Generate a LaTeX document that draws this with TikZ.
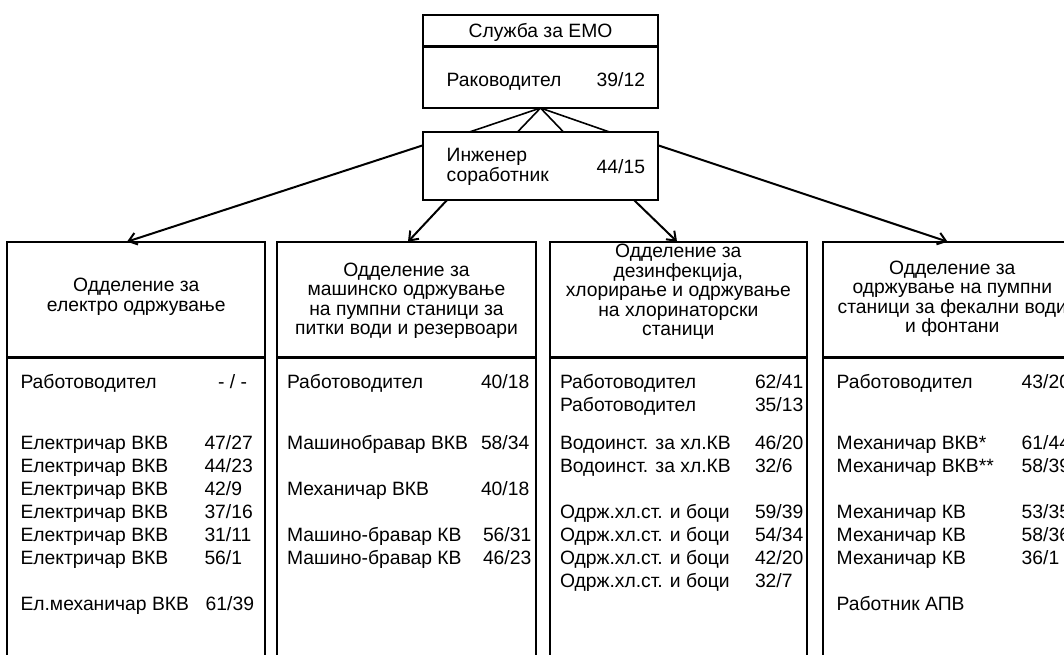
\documentclass[tikz,border=0pt]{standalone}
\usepackage{fontspec}
\setmainfont{Liberation Sans}
\usetikzlibrary{arrows.meta,calc}
\newcommand\dfont{\fontsize{19.3}{19.5}\selectfont}
\tikzset{
  box/.style={draw, line width=2pt, rectangle, inner sep=0pt, outer sep=0pt},
  sepline/.style={line width=3pt},
  txt/.style={anchor=base west, inner sep=0pt, outer sep=0pt, font=\dfont},
  txte/.style={anchor=base east, inner sep=0pt, outer sep=0pt, font=\dfont},
  hd/.style={anchor=center, inner sep=0pt, outer sep=0pt, align=center, font=\dfont},
  conn/.style={line width=1.6pt},
  arr/.style={line width=2pt, -{Straight Barb[length=8pt,width=12pt,line width=2pt]}}
}
\begin{document}
\begin{tikzpicture}[x=1pt,y=-1pt]
\useasboundingbox (0,0) rectangle (1064,654);
\clip (0,0) rectangle (1064,654);
\fill[white] (0,0) rectangle (1064,654);

% top box
\node[box, minimum width=235pt, minimum height=93pt, anchor=north west] (top) at (423,15) {};
\draw[sepline] (423,46) -- (658,46);
\node[txt, anchor=base] (sl) at (540.5,37.5) {Служба за ЕМО};
\node[txt] (rk) at (446.7,86) {Раководител};
\node[txt] (rkn) at (596.7,86) {39/12};

% engineer box
\node[box, minimum width=235pt, minimum height=68pt, anchor=north west] (eng) at (423,132) {};
\node[txt] (ie1) at (446.7,161.7) {Инженер};
\node[txt] (ie2) at (446.7,181.7) {соработник};
\node[txt] (ien) at (596.7,173.3) {44/15};

\draw[conn] (top.south) -- ($(eng.north)+(-71,0)$);
\draw[conn] (top.south) -- ($(eng.north)+(-23,0)$);
\draw[conn] (top.south) -- ($(eng.north)+(23,0)$);
\draw[conn] (top.south) -- ($(eng.north)+(69,0)$);

% department boxes
\node[box, minimum width=258pt, minimum height=460pt, anchor=north west] (c1) at (7.3,241.7) {};
\node[box, minimum width=258.4pt, minimum height=460pt, anchor=north west] (c2) at (277.3,241.7) {};
\node[box, minimum width=256.7pt, minimum height=460pt, anchor=north west] (c3) at (550,241.7) {};
\node[box, minimum width=259.3pt, minimum height=460pt, anchor=north west] (c4) at (822.7,241.7) {};
\draw[sepline] (7.3,357.7) -- (265.3,357.7);
\draw[sepline] (277.3,357.7) -- (535.7,357.7);
\draw[sepline] (550,357.7) -- (806.7,357.7);
\draw[sepline] (822.7,357.7) -- (1082,357.7);

% arrows
\draw[arr] (eng.170) -- ($(c1.north)+(-9.3,0)$);
\draw[arr] (eng.200) -- ($(c2.north)+(1.5,0)$);
\draw[arr] (eng.340) -- ($(c3.north)+(-1.3,0)$);
\draw[arr] (eng.10) -- ($(c4.north)+(-4.8,0)$);

% headers
\node[hd] (h1) at (136.3,297) {Одделение за\\електро одржување};
\node[hd] (h2) at (406.5,301) {Одделение за\\машинско одржување\\на пумпни станици за\\питки води и резервоари};
\node[hd] (h3) at (678.3,292) {Одделение за\\дезинфекција,\\хлорирање и одржување\\на хлоринаторски\\станици};
\node[hd] (h4) at (952.3,299) {Одделение за\\одржување на пумпни\\станици за фекални води\\и фонтани};

% column 1
\node[txt] (a0) at (20.5,388) {Работоводител};
\node[txte] (a0n) at (247,388) {- / -};
\node[txt] (a1) at (20.5,449.6) {Електричар ВКВ};
\node[txt] (a1n) at (204.5,449.6) {47/27};
\node[txt] (a2) at (20.5,472.6) {Електричар ВКВ};
\node[txt] (a2n) at (204.5,472.6) {44/23};
\node[txt] (a3) at (20.5,495.6) {Електричар ВКВ};
\node[txt] (a3n) at (204.5,495.6) {42/9};
\node[txt] (a4) at (20.5,518.6) {Електричар ВКВ};
\node[txt] (a4n) at (204.5,518.6) {37/16};
\node[txt] (a5) at (20.5,541.6) {Електричар ВКВ};
\node[txt] (a5n) at (204.5,541.6) {31/11};
\node[txt] (a6) at (20.5,564.6) {Електричар ВКВ};
\node[txt] (a6n) at (204.5,564.6) {56/1};
\node[txt] (a7) at (20.5,610.6) {Ел.механичар ВКВ};
\node[txt] (a7n) at (205.7,610.6) {61/39};

% column 2
\node[txt] (b0) at (287,388) {Работоводител};
\node[txt] (b0n) at (481,388) {40/18};
\node[txt] (b1) at (287,449.6) {Машинобравар ВКВ};
\node[txt] (b1n) at (481,449.6) {58/34};
\node[txt] (b2) at (287,495.6) {Механичар ВКВ};
\node[txt] (b2n) at (481,495.6) {40/18};
\node[txt] (b3) at (287,541.6) {Машино-бравар КВ};
\node[txt] (b3n) at (483,541.6) {56/31};
\node[txt] (b4) at (287,564.6) {Машино-бравар КВ};
\node[txt] (b4n) at (483,564.6) {46/23};

% column 3
\node[txt] (d0) at (560,388) {Работоводител};
\node[txt] (d0n) at (755,388) {62/41};
\node[txt] (d1) at (560,411) {Работоводител};
\node[txt] (d1n) at (755,411) {35/13};
\node[txt] (d2) at (560,449.6) {Водоинст. за хл.КВ};
\node[txt] (d2n) at (755,449.6) {46/20};
\node[txt] (d3) at (560,472.6) {Водоинст. за хл.КВ};
\node[txt] (d3n) at (755,472.6) {32/6};
\node[txt] (d4) at (560,518.6) {Одрж.хл.ст. и боци};
\node[txt] (d4n) at (755,518.6) {59/39};
\node[txt] (d5) at (560,541.6) {Одрж.хл.ст. и боци};
\node[txt] (d5n) at (755,541.6) {54/34};
\node[txt] (d6) at (560,564.6) {Одрж.хл.ст. и боци};
\node[txt] (d6n) at (755,564.6) {42/20};
\node[txt] (d7) at (560,587.6) {Одрж.хл.ст. и боци};
\node[txt] (d7n) at (755,587.6) {32/7};

% column 4
\node[txt] (e0) at (836.7,388) {Работоводител};
\node[txt] (e0n) at (1021.7,388) {43/20};
\node[txt] (e1) at (836.7,449.6) {Механичар ВКВ*};
\node[txt] (e1n) at (1021.7,449.6) {61/44};
\node[txt] (e2) at (836.7,472.6) {Механичар ВКВ**};
\node[txt] (e2n) at (1021.7,472.6) {58/39};
\node[txt] (e3) at (836.7,518.6) {Механичар КВ};
\node[txt] (e3n) at (1021.7,518.6) {53/35};
\node[txt] (e4) at (836.7,541.6) {Механичар КВ};
\node[txt] (e4n) at (1021.7,541.6) {58/36};
\node[txt] (e5) at (836.7,564.6) {Механичар КВ};
\node[txt] (e5n) at (1021.7,564.6) {36/1};
\node[txt] (e6) at (836.7,610.6) {Работник АПВ};
\end{tikzpicture}
\end{document}
